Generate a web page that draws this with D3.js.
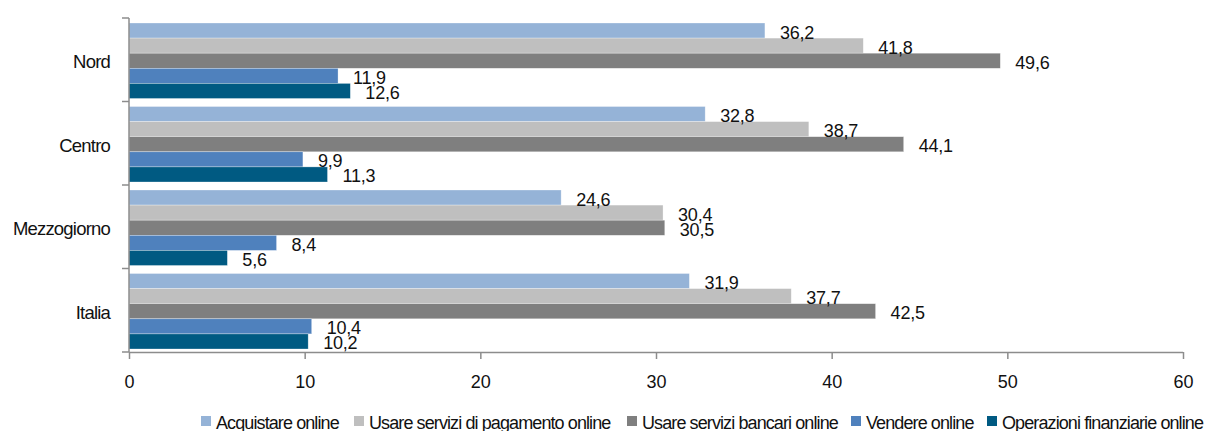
<!DOCTYPE html>
<html>
<head>
<meta charset="utf-8">
<script src="https://cdn.jsdelivr.net/npm/d3@7"></script>
<style>
  html, body { margin: 0; padding: 0; background: #fff; }
  svg { display: block; font-family: "Liberation Sans", Arial, sans-serif; }
</style>
</head>
<body>
<svg id="chart" width="1208" height="431"></svg>
<script>
// Data
const categories = ["Nord", "Centro", "Mezzogiorno", "Italia"];
const seriesNames = [
  "Acquistare online",
  "Usare servizi di pagamento online",
  "Usare servizi bancari online",
  "Vendere online",
  "Operazioni finanziarie online"
];
const acquistare = [36.2, 32.8, 24.6, 31.9];
const pagamento  = [41.8, 38.7, 30.4, 37.7];
const bancari    = [49.6, 44.1, 30.5, 42.5];
const vendere    = [11.9, 9.9, 8.4, 10.4];
const finanziarie = [12.6, 11.3, 5.6, 10.2];
const xTicks = [0, 10, 20, 30, 40, 50, 60];

(function () {
const seriesValues = [acquistare, pagamento, bancari, vendere, finanziarie];
const colors = ["#95B3D7", "#BFBFBF", "#7F7F7F", "#4F81BD", "#005A82"];

const svg = d3.select("#chart");
const pLeft = 129, pRight = 1183, pTop = 18, pBottom = 352;

const x = d3.scaleLinear().domain([0, 60]).range([pLeft, pRight]);
const yCat = d3.scaleBand().domain(categories).range([pTop, pBottom]);
const ySer = d3.scaleBand().domain(seriesNames).range([5, yCat.bandwidth() - 3]);

const fmt = v => v.toFixed(1).replace(".", ",");

const rows = [];
categories.forEach((c, ci) => {
  seriesNames.forEach((s, si) => {
    rows.push({ cat: c, ser: s, si, v: seriesValues[si][ci] });
  });
});

const g = svg.append("g");
g.selectAll("rect.bar").data(rows).enter().append("rect")
  .attr("class", "bar")
  .attr("x", x(0))
  .attr("y", d => yCat(d.cat) + ySer(d.ser))
  .attr("width", d => x(d.v) - x(0))
  .attr("height", ySer.bandwidth())
  .attr("fill", d => colors[d.si])
  .attr("stroke", "rgba(255,255,255,0.5)")
  .attr("stroke-width", 0.6);

g.selectAll("text.val").data(rows).enter().append("text")
  .attr("class", "val")
  .attr("x", d => x(d.v) + 15)
  .attr("y", d => yCat(d.cat) + ySer(d.ser) + ySer.bandwidth() / 2 + 8)
  .attr("font-size", 18)
  .attr("letter-spacing", -0.2)
  .attr("fill", "#111")
  .text(d => fmt(d.v));

const axisColor = "#8c8c8c";
const xAxis = d3.axisBottom(x).tickValues(xTicks).tickSize(7).tickFormat(d3.format("d"));
const xg = svg.append("g").attr("transform", `translate(0,${pBottom})`).call(xAxis);
xg.select(".domain").attr("stroke", axisColor).attr("stroke-width", 1.5).attr("d", `M${pLeft},0.5H${pRight}`);
xg.selectAll(".tick line").attr("stroke", axisColor).attr("stroke-width", 1.5);
xg.selectAll(".tick text").attr("font-size", 18).attr("fill", "#111")
  .attr("font-family", "Liberation Sans, Arial, sans-serif").attr("dy", 0).attr("y", 36);

const yBoundaries = categories.map(c => yCat(c)).concat([pBottom]);
const yg = svg.append("g");
yg.append("line").attr("x1", pLeft).attr("x2", pLeft).attr("y1", pTop).attr("y2", pBottom)
  .attr("stroke", axisColor).attr("stroke-width", 1.5);
yg.selectAll("line.yt").data(yBoundaries).enter().append("line")
  .attr("class", "yt")
  .attr("x1", pLeft - 7).attr("x2", pLeft).attr("y1", d => d).attr("y2", d => d)
  .attr("stroke", axisColor).attr("stroke-width", 1.5);

yg.selectAll("text.cat").data(categories).enter().append("text")
  .attr("class", "cat")
  .attr("x", 110)
  .attr("y", c => yCat(c) + yCat.bandwidth() / 2 + 8.5)
  .attr("text-anchor", "end")
  .attr("font-size", 18.5)
  .attr("letter-spacing", -0.8)
  .attr("fill", "#111")
  .text(c => c);

const legendX = [201, 354, 627, 851, 987];
const lg = svg.append("g");
const items = lg.selectAll("g.li").data(seriesNames).enter().append("g")
  .attr("class", "li")
  .attr("transform", (d, i) => `translate(${legendX[i]},416)`);
items.append("rect").attr("width", 10).attr("height", 10)
  .attr("fill", (d, i) => colors[i]);
items.append("text").attr("x", 15).attr("y", 12.5)
  .attr("font-size", 18)
  .attr("letter-spacing", -0.9)
  .attr("fill", "#111")
  .text(d => d);
})();
</script>
</body>
</html>
